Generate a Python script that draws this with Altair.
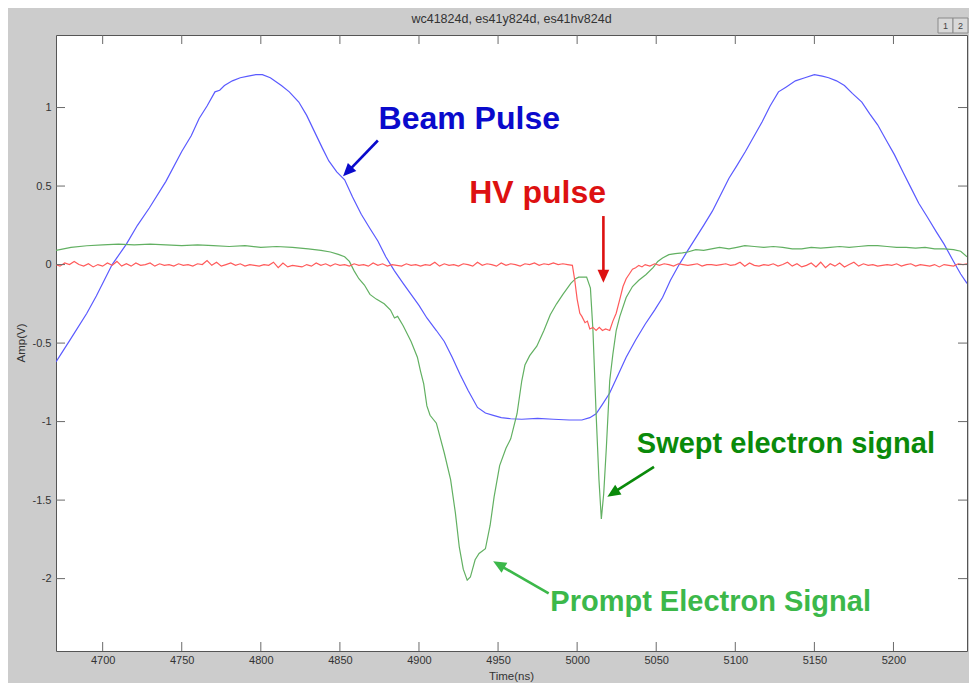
import altair as alt
import pandas as pd

FONT = "Liberation Sans"

# ---------------- axes ----------------
x_domain = [4670.5, 5246.5]
y_domain = [-2.461, 1.462]
x_ticks = [4700, 4750, 4800, 4850, 4900, 4950, 5000, 5050, 5100, 5150, 5200]
y_ticks = [-2, -1.5, -1, -0.5, 0, 0.5, 1]

title_text = "wc41824d, es41y824d, es41hv824d"
x_title = "Time(ns)"
y_title = "Amp(V)"

# ---------------- traces ----------------
beam_t = [4670.5, 4680, 4690, 4696, 4706, 4715, 4722, 4729.5, 4740, 4750, 4756, 4761, 4766, 4771,
          4774, 4777, 4782, 4787, 4792, 4797, 4801, 4806, 4813, 4818, 4824, 4829, 4834, 4839, 4843,
          4848, 4853, 4858, 4863.5, 4869, 4874, 4879, 4884.5, 4890, 4895, 4900, 4905, 4911, 4916,
          4921, 4926, 4931, 4937, 4942, 4947, 4952, 4958, 4965, 4975, 4985, 4995, 5003, 5008, 5012,
          5016, 5020.5, 5026, 5031, 5037, 5043, 5049, 5054, 5059, 5064.5, 5070, 5075, 5080, 5085.5,
          5091, 5096, 5101, 5106.4, 5112, 5117, 5122, 5127.3, 5132, 5138, 5144, 5150, 5155, 5159,
          5164, 5169, 5174, 5180, 5185, 5190, 5195, 5200.6, 5206, 5211, 5216, 5221.6, 5227, 5232,
          5238, 5242.5, 5246.5]
beam_v = [-0.62, -0.47, -0.31, -0.20, 0.00, 0.13, 0.25, 0.36, 0.53, 0.72, 0.82, 0.93, 1.01, 1.10,
          1.11, 1.14, 1.17, 1.19, 1.20, 1.21, 1.21, 1.19, 1.14, 1.10, 1.035, 0.95, 0.845, 0.74, 0.66,
          0.59, 0.54, 0.43, 0.32, 0.23, 0.15, 0.05, -0.04, -0.12, -0.19, -0.26, -0.34, -0.42, -0.49,
          -0.59, -0.70, -0.80, -0.91, -0.945, -0.96, -0.975, -0.982, -0.985, -0.98, -0.985, -0.99, -0.99, -0.975, -0.95,
          -0.89, -0.82, -0.70, -0.59, -0.48, -0.38, -0.29, -0.21, -0.10, 0.00, 0.09, 0.17, 0.25, 0.34,
          0.45, 0.55, 0.63, 0.72, 0.82, 0.91, 1.01, 1.10, 1.13, 1.17, 1.19, 1.21, 1.20, 1.19,
          1.17, 1.14, 1.09, 1.035, 0.96, 0.89, 0.80, 0.70, 0.59, 0.49, 0.39, 0.30, 0.21, 0.13,
          0.02, -0.06, -0.12]

elec_t = [4670.5, 4680, 4690, 4700, 4710, 4720, 4730, 4740, 4750, 4760, 4770, 4780, 4790, 4800,
          4810, 4820, 4830, 4838, 4844, 4849, 4853, 4856, 4859, 4862, 4865.5, 4869, 4873, 4878, 4882,
          4884.5, 4886.5, 4890, 4895, 4899, 4901, 4903, 4905, 4907, 4911, 4916, 4920, 4923, 4925.5,
          4928, 4930.5, 4932.5, 4935.5, 4938, 4942, 4945, 4947.5, 4951, 4955, 4958, 4962, 4965, 4967,
          4970, 4974.5, 4979, 4983, 4987, 4991, 4996, 4999, 5001, 5006, 5008.4, 5010, 5012, 5013.8,
          5015.3, 5016.8, 5018.5, 5020.6, 5022.6, 5024.7, 5027, 5031, 5035, 5039, 5043.6, 5048, 5051,
          5054, 5058, 5062, 5066.6, 5070, 5075, 5080, 5085, 5090, 5096, 5101, 5106, 5112, 5118, 5124,
          5130, 5136, 5142, 5148, 5154, 5160, 5166, 5172, 5178, 5184, 5190, 5196, 5202, 5208, 5214,
          5220, 5226, 5232, 5238, 5242.5, 5246.5]
elec_v = [0.09, 0.11, 0.12, 0.125, 0.13, 0.125, 0.13, 0.125, 0.12, 0.125, 0.12, 0.115, 0.12, 0.11,
          0.115, 0.11, 0.10, 0.09, 0.08, 0.065, 0.05, 0.02, -0.04, -0.09, -0.13, -0.19, -0.22, -0.25, -0.29,
          -0.34, -0.33, -0.39, -0.49, -0.59, -0.68, -0.76, -0.90, -0.96, -1.01, -1.20, -1.37, -1.58, -1.80,
          -1.94, -2.01, -1.99, -1.88, -1.84, -1.81, -1.66, -1.48, -1.28, -1.17, -1.11, -0.95, -0.74, -0.64,
          -0.58, -0.52, -0.42, -0.32, -0.25, -0.19, -0.12, -0.09, -0.08, -0.08, -0.15, -0.42, -0.95, -1.37,
          -1.62, -1.46, -1.16, -0.74, -0.57, -0.42, -0.33, -0.21, -0.14, -0.10, -0.063, -0.02, 0.02,
          0.042, 0.063, 0.07, 0.074, 0.08, 0.095, 0.09, 0.10, 0.11, 0.10, 0.11, 0.12, 0.115, 0.11, 0.115,
          0.11, 0.10, 0.10, 0.11, 0.105, 0.11, 0.115, 0.11, 0.115, 0.12, 0.12, 0.115, 0.11, 0.11, 0.105,
          0.11, 0.10, 0.10, 0.095, 0.085, 0.05]

hv_t = [4670.5, 4673, 4676, 4679, 4682, 4685, 4688, 4691, 4694, 4697, 4700, 4703, 4706, 4709, 4712,
        4715, 4718, 4721, 4724, 4727, 4730, 4733, 4736, 4739, 4742, 4745, 4748, 4751, 4754, 4757,
        4760, 4763, 4766, 4769, 4772, 4775, 4778, 4781, 4784, 4787, 4790, 4793, 4796, 4799, 4802,
        4805, 4808, 4811, 4814, 4817, 4820, 4823, 4826, 4829, 4832, 4835, 4838, 4841, 4844, 4847,
        4850, 4853, 4856, 4859, 4862, 4865, 4868, 4871, 4874, 4877, 4880, 4883, 4886, 4889, 4892,
        4895, 4898, 4901, 4904, 4907, 4910, 4913, 4916, 4919, 4922, 4925, 4928, 4931, 4934, 4937,
        4940, 4943, 4946, 4949, 4952, 4955, 4958, 4961, 4964, 4967, 4970, 4973, 4976, 4979, 4982,
        4985, 4988, 4991, 4994, 4997, 4998.5, 5000, 5001.7, 5003, 5005, 5006.5, 5008, 5010, 5012,
        5014, 5016, 5018, 5020.6, 5022.6, 5024.7, 5027, 5029, 5031, 5033, 5035, 5037, 5039, 5041,
        5043, 5046, 5049, 5052, 5055, 5058, 5061, 5064, 5067, 5070, 5073, 5076, 5079, 5082, 5085,
        5088, 5091, 5094, 5097, 5100, 5103, 5106, 5109, 5112, 5115, 5118, 5121, 5124, 5127, 5130,
        5133, 5136, 5139, 5142, 5145, 5148, 5151, 5154, 5157, 5160, 5163, 5166, 5169, 5172, 5175,
        5178, 5181, 5184, 5187, 5190, 5193, 5196, 5199, 5202, 5205, 5208, 5211, 5214, 5217, 5220,
        5223, 5226, 5229, 5232, 5235, 5238, 5241, 5244, 5246.5]
hv_v = [0.0, -0.01, 0.01, 0.0, 0.02, 0.0, -0.01, 0.005, -0.015, 0.0, -0.01, 0.01, -0.005, 0.02, -0.01,
        0.005, -0.01, 0.01, -0.005, 0.0, 0.01, -0.01, 0.005, -0.005, 0.0, -0.01, 0.005, -0.005, 0.0, -0.01,
        0.005, 0.0, 0.025, -0.005, 0.015, -0.01, 0.0, 0.01, -0.005, 0.005, -0.01, 0.0, -0.005, -0.01, 0.0,
        -0.005, 0.015, -0.02, 0.01, -0.015, -0.005, -0.01, -0.015, 0.0, -0.01, 0.01, -0.005, 0.005, -0.01, 0.005,
        -0.005, 0.0, -0.01, 0.005, -0.005, 0.0, -0.01, 0.01, -0.005, 0.005, -0.01, 0.0, -0.005, -0.01, 0.005,
        -0.005, 0.0, -0.01, 0.0, -0.005, 0.015, -0.01, 0.005, -0.005, 0.0, -0.01, 0.005, 0.0, -0.01, 0.015,
        -0.005, 0.005, 0.0, -0.01, 0.01, -0.005, 0.005, 0.0, -0.01, 0.005, 0.0, 0.01, -0.005, 0.005, 0.0,
        0.01, 0.0, 0.005, 0.0, -0.005, -0.10, -0.22, -0.31, -0.33, -0.37, -0.36, -0.41, -0.40, -0.42,
        -0.40, -0.42, -0.41, -0.42, -0.36, -0.31, -0.22, -0.14, -0.09, -0.06, -0.03, -0.02, -0.005, -0.015,
        0.0, -0.01, 0.005, -0.005, 0.005, 0.0, -0.01, 0.005, 0.0, -0.005, 0.0, 0.005, -0.01, 0.0, 0.0,
        -0.005, 0.0, 0.005, -0.005, 0.0, 0.015, -0.01, 0.01, -0.005, -0.01, 0.0, -0.005, 0.005, -0.01, 0.0,
        0.015, -0.01, 0.005, -0.015, -0.005, 0.01, -0.015, 0.015, -0.02, 0.005, -0.01, 0.01, -0.015, 0.0, 0.015,
        -0.01, 0.005, -0.005, 0.0, -0.01, -0.005, 0.0, -0.005, 0.005, -0.01, 0.0, 0.005, -0.01, 0.0, -0.005,
        -0.01, 0.0, -0.015, 0.0, -0.005, -0.01, 0.005, 0.0, 0.005]

series_names = ["Beam", "Electron", "HV"]
series_colors = ["#5a5aff", "#62b062", "#ff5a5a"]

# ---------------- annotations ----------------
note_text = ["Beam Pulse", "HV pulse", "Swept electron signal", "Prompt Electron Signal"]
note_t = [4931.8, 4975.0, 5132.0, 5084.4]
note_v = [0.93, 0.454, -1.143, -2.15]
note_color = ["#0a0acc", "#dd1111", "#0a8a0a", "#3cb84a"]
note_size = [32, 32, 29, 29]

arrow_t0 = [4874.0, 5016.6, 5048.6, 4982.0]
arrow_v0 = [0.79, 0.309, -1.288, -2.094]
arrow_t1 = [4855.8, 5016.6, 5022.9, 4950.6]
arrow_v1 = [0.60, -0.072, -1.453, -1.913]
tip_t = [4852.0, 5016.6, 5019.1, 4946.9]
tip_v = [0.562, -0.116, -1.478, -1.890]
tip_angle = [224, 180, 237.5, 299.7]

# ---------------- build data ----------------
frames = []
for name, t, v in zip(series_names, [beam_t, elec_t, hv_t], [beam_v, elec_v, hv_v]):
    frames.append(pd.DataFrame({"t": t, "v": v, "series": name}))
traces = pd.concat(frames, ignore_index=True)

notes = pd.DataFrame({"t": note_t, "v": note_v, "label": note_text, "c": note_color, "s": note_size})
arrows = pd.DataFrame({"t0": arrow_t0, "v0": arrow_v0, "t1": arrow_t1, "v1": arrow_v1,
                       "tt": tip_t, "tv": tip_v, "ang": tip_angle, "c": note_color})

xs = alt.Scale(domain=x_domain, nice=False, zero=False)
ys = alt.Scale(domain=y_domain, nice=False, zero=False)

W, H = 911, 616
TICK = 9

x_axis = alt.Axis(values=x_ticks, ticks=False, domain=False, grid=False, title=None,
                  labelExpr="toString(datum.value)", labelFont=FONT, labelFontSize=11,
                  labelColor="#333333", labelPadding=3)
y_axis = alt.Axis(values=y_ticks, ticks=False, domain=False, grid=False, title=None,
                  labelExpr="toString(datum.value)", labelFont=FONT, labelFontSize=11,
                  labelColor="#333333", labelPadding=5)


def X(field):
    return alt.X(field, scale=xs, axis=x_axis)


def Y(field):
    return alt.Y(field, scale=ys, axis=y_axis)


lines = alt.Chart(traces).mark_line(strokeWidth=1.2, clip=True).encode(
    x=X("t:Q"),
    y=Y("v:Q"),
    color=alt.Color("series:N", scale=alt.Scale(domain=series_names, range=series_colors), legend=None),
)

xt = pd.DataFrame({"t": x_ticks})
yt = pd.DataFrame({"v": y_ticks})
tick_color = "#6a6a6a"
xtick_bottom = alt.Chart(xt).mark_rule(color=tick_color, strokeWidth=1).encode(
    x=X("t:Q"), y=alt.value(H), y2=alt.value(H - TICK))
xtick_top = alt.Chart(xt).mark_rule(color=tick_color, strokeWidth=1).encode(
    x=X("t:Q"), y=alt.value(0), y2=alt.value(TICK))
ytick_left = alt.Chart(yt).mark_rule(color=tick_color, strokeWidth=1).encode(
    y=Y("v:Q"), x=alt.value(0), x2=alt.value(TICK))
ytick_right = alt.Chart(yt).mark_rule(color=tick_color, strokeWidth=1).encode(
    y=Y("v:Q"), x=alt.value(W - TICK), x2=alt.value(W))

note_layers = []
for i in range(len(note_text)):
    note_layers.append(
        alt.Chart(notes.iloc[[i]]).mark_text(font=FONT, fontWeight="bold", fontSize=note_size[i],
                                             color=note_color[i], align="center", baseline="middle").encode(
            x=X("t:Q"), y=Y("v:Q"), text="label:N")
    )

arrow_lines = alt.Chart(arrows).mark_rule(strokeWidth=2.6).encode(
    x=X("t0:Q"), y=Y("v0:Q"),
    x2="t1:Q", y2="v1:Q", color=alt.Color("c:N", scale=None))
arrow_heads = alt.Chart(arrows).mark_point(shape="M0,0L-0.45,1L0.45,1Z", filled=True, size=676, opacity=1).encode(
    x=X("tt:Q"), y=Y("tv:Q"),
    angle=alt.Angle("ang:Q", scale=None), color=alt.Color("c:N", scale=None))

one = pd.DataFrame({"k": [0]})
title_mark = alt.Chart(one).mark_text(text=title_text, font=FONT, fontSize=12.5, color="#333333",
                                      align="center", baseline="middle").encode(
    x=alt.value(W / 2), y=alt.value(-16))
xtitle_mark = alt.Chart(one).mark_text(text=x_title, font=FONT, fontSize=11.5, color="#333333",
                                       align="center", baseline="middle").encode(
    x=alt.value(W / 2), y=alt.value(642))
ytitle_mark = alt.Chart(one).mark_text(text=y_title, font=FONT, fontSize=11.5, color="#333333",
                                       align="center", baseline="middle", angle=270).encode(
    x=alt.value(-34), y=alt.value(H / 2))

btn_labels = ["1", "2"]
btn1 = alt.Chart(one).mark_rect(fill="#d9d9d9", stroke="#8a8a8a", strokeWidth=1).encode(
    x=alt.value(882), x2=alt.value(897), y=alt.value(-17), y2=alt.value(-2))
btn2 = alt.Chart(one).mark_rect(fill="#d9d9d9", stroke="#8a8a8a", strokeWidth=1).encode(
    x=alt.value(897), x2=alt.value(912), y=alt.value(-17), y2=alt.value(-2))
btn1t = alt.Chart(one).mark_text(text=btn_labels[0], font=FONT, fontSize=9, color="#444444",
                                 align="center", baseline="middle").encode(x=alt.value(889.5), y=alt.value(-9.5))
btn2t = alt.Chart(one).mark_text(text=btn_labels[1], font=FONT, fontSize=9, color="#444444",
                                 align="center", baseline="middle").encode(x=alt.value(904.5), y=alt.value(-9.5))

chart = alt.layer(
    lines, xtick_bottom, xtick_top, ytick_left, ytick_right,
    arrow_lines, arrow_heads, *note_layers,
    title_mark, xtitle_mark, ytitle_mark, btn1, btn2, btn1t, btn2t,
).properties(
    width=W, height=H,
    padding={"left": 48, "top": 27, "right": 2, "bottom": 32},
    autosize=alt.AutoSizeParams(type="none"),
    background="#cccccc",
).configure_view(fill="white", stroke="#555555", strokeWidth=1)

chart.save("out.html", embed_options={"renderer": "svg", "actions": False})
